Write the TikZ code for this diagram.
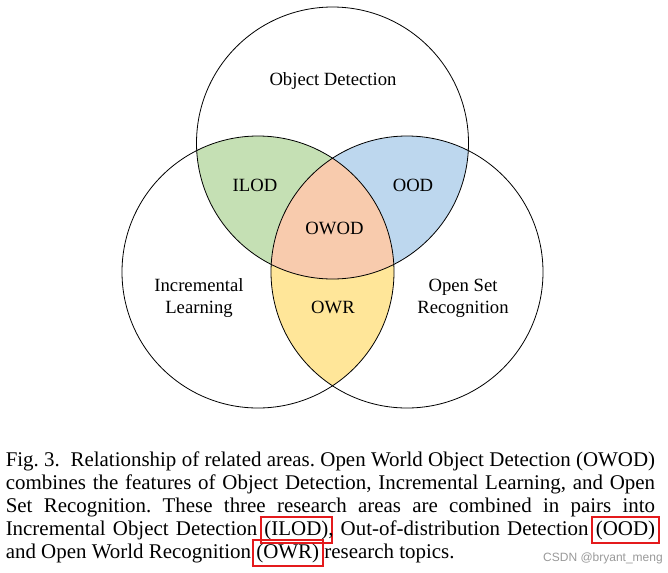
\documentclass[tikz,border=0pt]{standalone}
\usepackage{fontspec}
\setmainfont{Liberation Serif}
\newfontfamily\marksans{Liberation Sans}

\definecolor{ilodgreen}{RGB}{197,224,180}
\definecolor{oodblue}{RGB}{189,215,238}
\definecolor{owodorange}{RGB}{248,203,173}
\definecolor{owryellow}{RGB}{255,230,153}
\definecolor{markred}{RGB}{228,26,28}

% red frame laid over a word, spacing untouched
\newcommand{\redmark}[1]{\rlap{\hspace{-3.6pt}\textcolor{markred}{\setlength{\fboxsep}{2pt}\setlength{\fboxrule}{1.6pt}\fbox{\phantom{#1}}}}#1}
\newcommand{\capline}[1]{\hbox to 487pt{#1}}

\begin{document}
\begin{tikzpicture}[x=0.75pt,y=0.75pt,yscale=-1,xscale=1,
	areatext/.style={font=\fontsize{14}{16.5}\selectfont, inner sep=0pt, align=center},
	captext/.style={font=\fontsize{15.7}{17.25}\selectfont\frenchspacing, inner sep=0pt, anchor=base west},
	vennline/.style={line width=0.6pt}]
		\useasboundingbox (0,0) rectangle (668,572);
		\coordinate (detect) at (332.5,143);
		\coordinate (incr) at (258,272);
		\coordinate (openset) at (407,272);
		\def\vennr{136}
		% pair overlaps
		\begin{scope}
			\clip (detect) circle (\vennr);
			\fill[ilodgreen] (incr) circle (\vennr);
			\fill[oodblue] (openset) circle (\vennr);
		\end{scope}
		\begin{scope}
			\clip (incr) circle (\vennr);
			\fill[owryellow] (openset) circle (\vennr);
		\end{scope}
		% all three
		\begin{scope}
			\clip (detect) circle (\vennr);
			\clip (incr) circle (\vennr);
			\fill[owodorange] (openset) circle (\vennr);
		\end{scope}
		\draw[vennline] (detect) circle (\vennr);
		\draw[vennline] (incr) circle (\vennr);
		\draw[vennline] (openset) circle (\vennr);
		
		\node[areatext, anchor=base] (objdet) at (333,85) {Object Detection};
		\node[areatext, anchor=base] (ilod) at (255,191) {ILOD};
		\node[areatext, anchor=base] (ood) at (413,191) {OOD};
		\node[areatext, anchor=base] (owod) at (334.5,234) {OWOD};
		\node[areatext, anchor=base] (owr) at (333,313) {OWR};
		\node[areatext] (inclearn) at (199,298.5) {Incremental\\Learning};
		\node[areatext] (osr) at (463,298.5) {Open Set\\Recognition};
		
		% caption
		\node[captext] (cap1) at (5.5,466) {\capline{Fig.~3.\ \ Relationship of related areas. Open World Object Detection (OWOD)}};
		\node[captext] (cap2) at (5.5,489) {\capline{combines the features of Object Detection, Incremental Learning, and Open}};
		\node[captext] (cap3) at (5.5,512) {\capline{Set Recognition. These three research areas are combined in pairs into}};
		\node[captext] (cap4) at (5.5,535) {\capline{Incremental Object Detection \redmark{(ILOD)}, Out-of-distribution Detection \redmark{(OOD)}}};
		\node[captext] (cap5) at (5.5,558) {and Open World Recognition \redmark{(OWR)} research topics.};
		\node[font=\marksans\fontsize{9}{10}\selectfont, text=black!40, inner sep=0pt] (wmark) at (603,558) {CSDN @bryant\_meng};
	\end{tikzpicture}
\end{document}
